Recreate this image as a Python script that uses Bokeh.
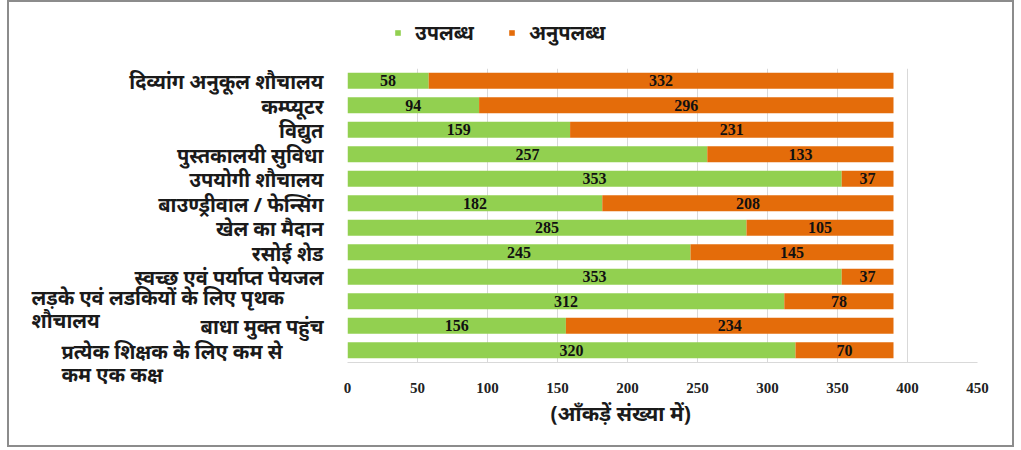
from bokeh.plotting import figure
from bokeh.models import (ColumnDataSource, LabelSet, Legend, LegendItem, Title,
                          FactorRange, Range1d, FixedTicker)
from bokeh.layouts import row, column
from bokeh.embed import file_html
from bokeh.resources import INLINE
from bokeh.core.properties import value

categories = [
    "दिव्यांग अनुकूल शौचालय",
    "कम्प्यूटर",
    "विद्युत",
    "पुस्तकालयी सुविधा",
    "उपयोगी शौचालय",
    "बाउण्ड्रीवाल / फेन्सिंग",
    "खेल का मैदान",
    "रसोई शेड",
    "स्वच्छ एवं पर्याप्त पेयजल",
    "लड़के एवं लडकियों के लिए पृथक\nशौचालय",
    "बाधा मुक्त पहुंच",
    "प्रत्येक शिक्षक के लिए कम से\nकम एक कक्ष",
]
available = [58, 94, 159, 257, 353, 182, 285, 245, 353, 312, 156, 320]
unavailable = [332, 296, 231, 133, 37, 208, 105, 145, 37, 78, 234, 70]
series_names = ["उपलब्ध", "अनुपलब्ध"]
x_ticks = [0, 50, 100, 150, 200, 250, 300, 350, 400, 450]
x_title = "(आँकड़ें संख्या में)"

GREEN = "#92D050"
ORANGE = "#E46C0A"
DEV_FONT = "Noto Sans"
NUM_FONT = "Liberation Serif"
TXT = "#1a1a1a"

LEG_H = 66          # strip above the plot frame
MAIN_H = 377        # main plot (frame + x axis area)
BOTTOM = 83
LEFT_W = 330
MAIN_W = 673
FRAME_H = MAIN_H - BOTTOM
BAND = FRAME_H / len(categories)
LEFT_H = 2 * LEG_H + FRAME_H          # symmetric around the frame
PAD = (LEFT_H / BAND - len(categories)) / 2

src = ColumnDataSource(dict(
    cat=categories,
    a_end=available,
    u_end=[a + u for a, u in zip(available, unavailable)],
    a_mid=[a / 2 for a in available],
    u_mid=[a + u / 2 for a, u in zip(available, unavailable)],
    a_txt=[str(v) for v in available],
    u_txt=[str(v) for v in unavailable],
))

# ---------- left panel: category labels ----------
lp = figure(width=LEFT_W, height=LEFT_H,
            y_range=FactorRange(factors=list(reversed(categories)),
                                range_padding=PAD, range_padding_units="absolute"),
            x_range=Range1d(0, LEFT_W),
            output_backend="svg", toolbar_location=None,
            min_border_left=0, min_border_right=0,
            min_border_top=0, min_border_bottom=0)
lp.axis.visible = False
lp.grid.visible = False
lp.outline_line_color = None

single = [c for c in categories if "\n" not in c]
wrapped = [c for c in categories if "\n" in c]
lp.text(x=[314] * len(single), y=single, text=single,
        text_align="right", text_baseline="middle", y_offset=1,
        text_font=value(DEV_FONT), text_font_style="bold",
        text_font_size="20px", text_color=TXT)
lp.text(x=[22, 52], y=wrapped, text=wrapped,
        text_align="left", text_baseline="middle", y_offset=[8, 13],
        text_line_height=0.85,
        text_font=value(DEV_FONT), text_font_style="bold",
        text_font_size="20px", text_color=TXT)

# ---------- legend strip ----------
lf = figure(width=MAIN_W, height=LEG_H, x_range=Range1d(0, 1), y_range=Range1d(0, 1),
            output_backend="svg", toolbar_location=None,
            min_border_left=0, min_border_right=0, min_border_top=0, min_border_bottom=0)
lf.axis.visible = False
lf.grid.visible = False
lf.outline_line_color = None
# off-canvas swatch renderers used only for the legend keys
d1 = lf.quad(left=[-3], right=[-2], top=[-2], bottom=[-3], color=GREEN, line_color=None)
d2 = lf.quad(left=[-3], right=[-2], top=[-2], bottom=[-3], color=ORANGE, line_color=None)
legend = Legend(items=[LegendItem(label=series_names[0], renderers=[d1]),
                       LegendItem(label=series_names[1], renderers=[d2])],
                orientation="horizontal", location=(47, 22),
                glyph_width=7, glyph_height=7, spacing=34, padding=0, margin=0,
                label_standoff=14,
                label_text_font=DEV_FONT, label_text_font_style="bold",
                label_text_font_size="20px", label_text_color=TXT,
                background_fill_alpha=0, border_line_color=None)
lf.add_layout(legend, "center")

# ---------- main panel: bars ----------
p = figure(width=MAIN_W, height=MAIN_H,
           y_range=FactorRange(factors=list(reversed(categories)), range_padding=0),
           x_range=Range1d(0, 450),
           output_backend="svg", toolbar_location=None,
           min_border_left=8, min_border_right=35,
           min_border_top=0, min_border_bottom=BOTTOM)
p.outline_line_color = None

p.hbar(y="cat", left=0, right="a_end", height=0.65, source=src,
       color=GREEN, line_color=None)
p.hbar(y="cat", left="a_end", right="u_end", height=0.65, source=src,
       color=ORANGE, line_color=None)

for xcol, tcol in (("a_mid", "a_txt"), ("u_mid", "u_txt")):
    p.add_layout(LabelSet(x=xcol, y="cat", text=tcol, source=src,
                          text_align="center", text_baseline="middle",
                          text_font=value(NUM_FONT), text_font_style="bold",
                          text_font_size="16px", text_color="#111111"))

p.yaxis.visible = False
p.xaxis.ticker = FixedTicker(ticks=x_ticks)
p.xaxis.major_label_text_font = NUM_FONT
p.xaxis.major_label_text_font_style = "bold"
p.xaxis.major_label_text_font_size = "15px"
p.xaxis.major_label_text_color = "#222222"
p.xaxis.major_label_standoff = 14
p.xaxis.major_tick_line_color = None
p.xaxis.minor_tick_line_color = None
p.xaxis.axis_line_color = "#d9d9d9"
p.xgrid.grid_line_color = "#d9d9d9"
p.ygrid.grid_line_color = None

p.add_layout(Title(text=x_title, align="left", offset=203, standoff=2,
                   text_font=DEV_FONT, text_font_style="bold",
                   text_font_size="21px", text_color=TXT), "below")

layout = row(lp, column(lf, p),
             styles={"border": "2px solid #8c8c8c", "margin-left": "7px", "margin-top": "0px"})

open("out.html", "w").write(file_html(layout, INLINE))
